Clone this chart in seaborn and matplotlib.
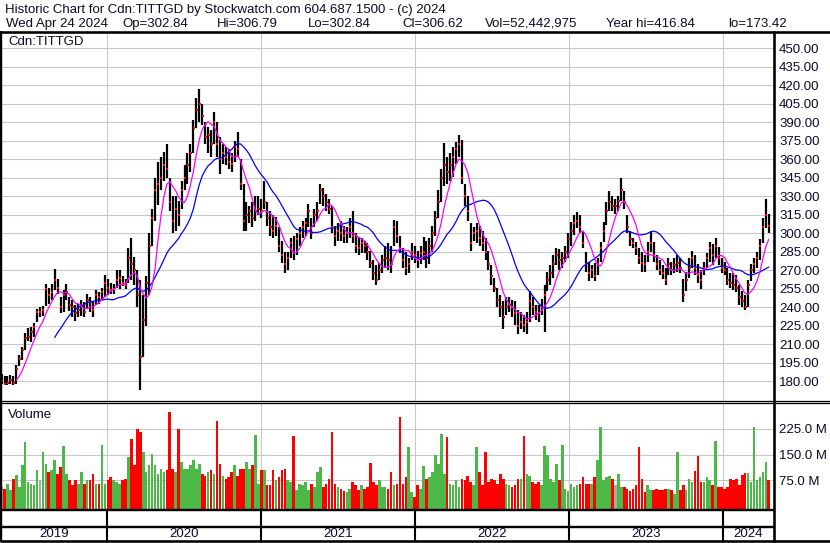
import numpy as np
import pandas as pd
import matplotlib
matplotlib.use("Agg")
import matplotlib.pyplot as plt
from matplotlib.lines import Line2D
import seaborn as sns

# ---------------- data (weekly) ----------------
start_date = "2019-04-26"
years = ["2019", "2020", "2021", "2022", "2023", "2024"]

high = [186,184,184,185,184,193,201,208,219,223,
        224,227,239,240,241,259,256,259,271,263,
        248,254,259,248,246,242,243,246,244,251,
        248,244,254,252,256,266,263,260,259,270,
        270,265,263,288,296,281,270,262,250,265,
        300,320,345,358,362,366,372,345,330,330,
        326,342,355,365,372,392,410,417,405,390,
        386,384,398,390,378,372,370,368,365,375,
        382,360,340,325,322,325,330,330,328,342,
        325,318,315,313,305,294,285,285,296,298,
        300,305,310,312,324,312,320,325,340,337,
        332,328,322,306,308,310,306,305,312,318,
        300,297,296,294,292,286,278,274,276,282,
        290,292,290,311,310,298,288,285,280,292,
        290,286,290,297,294,296,306,318,335,352,
        373,362,365,370,374,380,376,340,330,308,
        305,308,306,302,296,286,274,264,256,250,
        245,248,248,246,245,238,236,234,236,253,
        248,242,242,247,258,269,274,282,288,287,
        285,290,300,309,315,317,315,301,285,277,
        274,276,280,293,309,325,334,330,328,330,
        345,334,315,302,296,293,288,285,282,293,
        301,293,282,278,274,272,280,277,280,282,
        280,263,269,280,286,282,275,270,277,284,
        293,291,296,289,280,277,272,268,268,266,
        258,253,250,262,275,280,285,295,312,328,316]

low = [178,177,177,178,177,178,192,197,205,213,
       212,216,228,232,233,241,243,246,254,251,
       235,236,246,237,232,229,232,233,232,239,
       236,232,242,243,246,248,250,251,251,256,
       255,257,255,260,262,258,240,173,200,225,
       250,290,310,323,335,342,345,318,300,302,
       306,320,335,340,350,365,385,390,388,372,
       365,362,372,362,348,356,355,352,350,358,
       362,335,302,302,308,305,310,315,312,320,
       306,298,296,298,285,276,268,270,280,278,
       282,290,296,298,305,295,305,310,324,322,
       318,316,300,290,294,294,292,292,296,292,
       284,282,284,284,278,272,262,258,262,268,
       272,270,268,290,292,284,272,266,268,278,
       276,272,275,278,272,275,285,298,312,325,
       338,340,342,346,356,362,340,322,310,286,
       294,292,290,286,278,270,258,252,240,232,
       222,234,236,232,226,218,222,220,218,228,
       234,230,228,234,220,253,258,264,274,270,
       272,277,280,290,299,304,300,288,269,261,
       264,261,266,277,293,307,318,318,316,318,
       326,320,300,290,288,282,275,269,269,277,
       285,277,270,266,263,258,266,266,268,269,
       268,244,253,264,272,266,260,255,266,272,
       277,274,280,274,268,266,258,256,254,252,
       242,240,238,240,261,268,272,278,292,304,300]

close = [180,178,179,181,179,190,198,205,215,216,
         220,224,236,236,238,255,250,252,262,256,
         240,250,252,242,240,235,238,240,236,246,
         244,238,250,248,252,260,256,254,255,262,
         264,260,258,280,275,270,250,200,230,260,
         290,312,335,340,345,355,352,325,310,320,
         315,335,345,355,365,385,400,405,395,378,
         380,372,390,372,360,365,362,358,356,370,
         368,340,310,315,318,312,318,320,318,325,
         312,305,302,306,290,282,275,280,292,285,
         295,300,305,308,318,300,315,318,335,330,
         325,320,305,298,302,300,298,300,305,298,
         290,288,292,290,285,276,268,262,270,278,
         280,278,275,305,298,288,278,272,275,285,
         282,278,284,285,280,290,300,312,325,345,
         355,350,355,362,368,372,345,330,318,292,
         300,302,296,292,285,275,265,256,246,240,
         232,240,242,240,235,225,228,226,228,245,
         240,236,235,240,250,262,268,275,282,278,
         280,285,295,302,308,310,305,292,275,268,
         270,265,275,288,302,318,325,322,322,326,
         335,325,305,295,292,288,280,276,275,285,
         292,282,275,270,268,262,275,270,274,276,
         272,250,262,272,280,272,266,262,272,280,
         288,282,290,280,272,270,262,260,258,256,
         248,245,240,258,270,275,280,290,305,315,306]

volume_m = [54,51,65,48,80,90,56,119,186,70,
            65,60,104,75,157,123,99,104,133,94,
            114,174,94,75,60,75,65,99,65,75,
            75,94,65,65,177,65,75,85,75,70,
            65,75,80,143,196,119,225,217,157,99,
            119,152,119,94,109,99,104,273,109,99,
            225,128,109,109,119,133,109,123,94,89,
            99,104,94,249,123,89,80,85,99,119,
            89,109,109,128,109,119,206,65,104,104,
            60,60,104,75,85,104,109,75,70,203,
            46,65,60,70,46,65,55,99,114,56,
            65,80,217,65,56,51,45,41,50,70,
            60,46,60,50,55,126,70,60,75,55,
            56,50,99,60,65,259,65,85,172,40,
            27,60,50,118,80,85,99,148,123,210,
            94,200,65,60,75,56,80,75,89,70,
            60,172,99,60,157,70,80,75,65,94,
            80,65,60,55,60,80,80,203,94,89,
            70,65,70,60,174,150,80,70,123,75,
            177,50,45,65,55,60,65,85,65,65,
            65,85,133,232,75,85,89,80,60,92,
            55,55,50,45,50,60,172,80,42,60,
            46,46,50,46,46,50,50,46,36,159,
            46,60,46,78,70,101,145,70,70,85,
            75,60,191,56,56,50,56,80,75,80,
            60,90,95,95,70,232,75,85,99,128,75]

price_ticks = list(range(180, 451, 15))
volume_ticks = [75, 150, 225]

header1 = "Historic Chart for Cdn:TITTGD by Stockwatch.com 604.687.1500 - (c) 2024"
header2_fields = ["Wed Apr 24 2024", "Op=302.84", "Hi=306.79", "Lo=302.84",
                  "Cl=306.62", "Vol=52,442,975", "Year hi=416.84", "lo=173.42"]
header2_x = [6, 122, 217, 308, 402, 485, 606, 728]
symbol = "Cdn:TITTGD"

# ---------------- frame ----------------
df = pd.DataFrame({"high": high, "low": low, "close": close, "vol": volume_m})
df["date"] = pd.date_range(start_date, periods=len(df), freq="7D")
df["ma_fast"] = df["close"].rolling(6).mean()
df["ma_slow"] = df["close"].rolling(19).mean()
chg = df["close"].diff().fillna(0)
df["vcol"] = np.where(chg > 0, "#4cb848", np.where(chg < 0, "#ff0000", "#a8a8a8"))

sns.set_theme(style="white")
plt.rcParams["font.family"] = ["Liberation Sans", "DejaVu Sans"]
TXT = "#0a0a28"
FS = 9.5

W, H = 830, 543
fig = plt.figure(figsize=(W / 100, H / 100), dpi=100)
fig.patch.set_facecolor("white")


def fx(px):
    return px / W


def fy(py):
    return 1 - py / H


def add_axes(x0, y0, x1, y1):
    a = fig.add_axes([fx(x0), fy(y1), fx(x1) - fx(x0), fy(y0) - fy(y1)])
    for s in a.spines.values():
        s.set_visible(False)
    a.set_facecolor("none")
    return a


xmin = pd.Timestamp("2019-04-27")
xmax = pd.Timestamp("2024-04-29")
bounds = [pd.Timestamp(f"{y}-01-01") for y in years[1:]]
GRID = "#c8c8c8"

# price panel
axp = add_axes(2, 33, 773, 401)
axp.set_xlim(xmin, xmax)
axp.set_ylim(164.0, 462.4)
for t in price_ticks:
    axp.axhline(t, color=GRID, lw=0.75, zorder=0)
for b in bounds:
    axp.axvline(b, color=GRID, lw=0.75, zorder=0)
axp.vlines(df["date"], df["low"], df["high"], colors="black", lw=1.6, zorder=2)
axp.plot(df["date"] + pd.Timedelta(days=1), df["close"], "s", color="#ff0000",
         ms=1.6, mew=0, zorder=3)
sns.lineplot(x=df["date"], y=df["ma_slow"], ax=axp, color="#0000ff", lw=0.9, zorder=4)
sns.lineplot(x=df["date"], y=df["ma_fast"], ax=axp, color="#ff00ff", lw=0.9, zorder=5)
axp.set_xlabel("")
axp.set_ylabel("")
axp.set_xticks([])
axp.yaxis.tick_right()
axp.set_yticks(price_ticks)
axp.set_yticklabels([f"{t:.2f}" for t in price_ticks])
axp.tick_params(axis="y", length=0, pad=4.3, labelsize=FS, labelcolor=TXT)
axp.text(0.008, 0.992, symbol, transform=axp.transAxes, fontsize=FS, color=TXT,
         ha="left", va="top")

# volume panel
axv = add_axes(2, 403, 773, 509)
vb = -8.75
axv.set_xlim(xmin, xmax)
axv.set_ylim(vb, 300.6)
for t in volume_ticks:
    axv.axhline(t, color=GRID, lw=0.75, zorder=0)
for b in bounds:
    axv.axvline(b, color=GRID, lw=0.75, zorder=0)
axv.bar(df["date"], df["vol"] - vb, bottom=vb, width=6.2, color=df["vcol"],
        linewidth=0, zorder=2)
axv.set_xticks([])
axv.yaxis.tick_right()
axv.set_yticks(volume_ticks)
axv.set_yticklabels([f"{t:.1f} M" for t in volume_ticks])
axv.tick_params(axis="y", length=0, pad=4.3, labelsize=FS, labelcolor=TXT)
axv.text(0.008, 0.94, "Volume", transform=axv.transAxes, fontsize=FS, color=TXT,
         ha="left", va="top")

# date strip
axx = add_axes(2, 510, 773, 541)
axx.set_xlim(xmin, xmax)
axx.set_ylim(541, 510)
axx.set_xticks([])
axx.set_yticks([])
for b in bounds:
    axx.axvline(b, color="black", lw=1.5)
edges = [xmin] + bounds + [xmax]
for i, y in enumerate(years):
    c = edges[i] + (edges[i + 1] - edges[i]) / 2
    axx.text(c, 534, y, ha="center", va="center", fontsize=FS, color=TXT)


def hline(y, x0, x1, lw=2.0):
    fig.add_artist(Line2D([fx(x0), fx(x1)], [fy(y), fy(y)], color="black",
                          lw=lw * 0.72, solid_capstyle="butt"))


def vline(x, y0, y1, lw=2.0):
    fig.add_artist(Line2D([fx(x), fx(x)], [fy(y0), fy(y1)], color="black",
                          lw=lw * 0.72, solid_capstyle="butt"))


hline(32, 0, 830, 2.6)
hline(400.5, 0, 830, 1.3)
hline(403.2, 0, 830, 1.3)
hline(509.8, 0, 775, 2.4)
hline(526.8, 0, 775, 2.4)
hline(541.2, 0, 830, 2.6)
vline(1.0, 31, 542, 2.4)
vline(774.0, 31, 542, 2.6)

fig.text(fx(5), fy(10), header1, fontsize=FS, color=TXT, ha="left", va="center")
for s, x in zip(header2_fields, header2_x):
    fig.text(fx(x), fy(24), s, fontsize=FS, color=TXT, ha="left", va="center")

fig.savefig("out.png", dpi=100, facecolor="white")
